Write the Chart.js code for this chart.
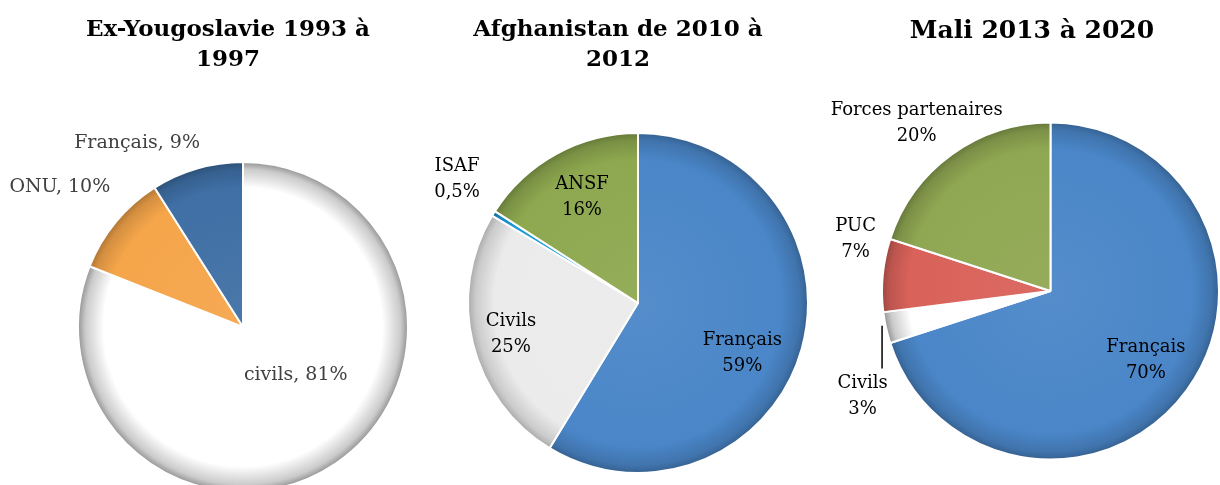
<!DOCTYPE html>
<html>
<head>
<meta charset="utf-8">
<script src="https://cdn.jsdelivr.net/npm/chart.js@4.4.1/dist/chart.umd.min.js"></script>
<style>
    body { margin: 0; background: #fff; }
    #wrap { position: relative; width: 1220px; height: 485px; overflow: hidden; background: #fff; }
    #wrap canvas { position: absolute; left: 0; top: 0; }
    .title {
        position: absolute; text-align: center; color: #000;
        font-family: "DejaVu Serif", serif; font-weight: bold; line-height: 30px;
    }
</style>
</head>
<body>
<div id="wrap">
    <canvas id="chartYougo" width="1220" height="500"></canvas>
    <canvas id="chartAfghan" width="1220" height="500"></canvas>
    <canvas id="chartMali" width="1220" height="500"></canvas>
    <div class="title" style="left:28px;top:13px;width:400px;font-size:23px;">Ex-Yougoslavie 1993 à<br>1997</div>
    <div class="title" style="left:418px;top:13px;width:400px;font-size:23px;">Afghanistan de 2010 à<br>2012</div>
    <div class="title" style="left:832px;top:15px;width:400px;font-size:25px;">Mali 2013 à 2020</div>
</div>
<script>
// Ex-Yougoslavie 1993 - 1997
const yougoCategories = ['civils', 'ONU', 'Français'];
const yougoValues = [81, 10, 9];
const yougoColors = ['#ffffff', '#f5a54a', '#3f6fa5'];

// Afghanistan 2010 - 2012
const afghanCategories = ['Français', 'Civils', 'ISAF', 'ANSF'];
const afghanValues = [59, 25, 0.5, 16];
const afghanColors = ['#4a86c8', '#ebebeb', '#1d9bd7', '#8da84f'];

// Mali 2013 - 2020
const maliCategories = ['Français', 'Civils', 'PUC', 'Forces partenaires'];
const maliValues = [70, 3, 7, 20];
const maliColors = ['#4a86c8', '#ffffff', '#d9625a', '#8fa752'];

// simple hex colour mixing for the bevel look
function mix(hex, target, t) {
    const a = parseInt(hex.slice(1), 16);
    const b = parseInt(target.slice(1), 16);
    const r = Math.round(((a >> 16) & 255) * (1 - t) + ((b >> 16) & 255) * t);
    const g = Math.round(((a >> 8) & 255) * (1 - t) + ((b >> 8) & 255) * t);
    const bl = Math.round((a & 255) * (1 - t) + (b & 255) * t);
    return 'rgb(' + r + ',' + g + ',' + bl + ')';
}

// radial gradient: flat colour in the middle, darker towards the rim
function bevel(context, base) {
    const area = context.chart.chartArea;
    if (!area) {
        return base;
    }
    const cx = (area.left + area.right) / 2;
    const cy = (area.top + area.bottom) / 2;
    const r = Math.min(area.right - area.left, area.bottom - area.top) / 2;
    const g = context.chart.ctx.createRadialGradient(cx, cy, 0, cx, cy, r);
    const edge = base === '#ffffff' ? 0.45 : 0.3;
    g.addColorStop(0, mix(base, '#ffffff', 0.06));
    g.addColorStop(0.84, base);
    g.addColorStop(0.95, mix(base, '#000000', edge * 0.45));
    g.addColorStop(1, mix(base, '#000000', edge));
    return g;
}

// draws the slice labels, placed along the slice middle angle
const sliceLabels = {
    id: 'sliceLabels',
    afterDatasetsDraw(chart) {
        const opts = chart.options.plugins.sliceLabels;
        const ctx = chart.ctx;
        const meta = chart.getDatasetMeta(0);
        ctx.save();
        ctx.font = opts.size + 'px "DejaVu Serif", serif';
        ctx.fillStyle = opts.color;
        ctx.textAlign = 'center';
        ctx.textBaseline = 'middle';
        meta.data.forEach(function(arc, i) {
            const p = arc.getProps(['x', 'y', 'startAngle', 'endAngle', 'outerRadius'], true);
            const mid = (p.startAngle + p.endAngle) / 2;
            const place = opts.place[i];
            const x = p.x + Math.cos(mid) * p.outerRadius * place.k + place.dx;
            const y = p.y + Math.sin(mid) * p.outerRadius * place.k + place.dy;
            const lines = opts.text[i].split('\n');
            const lh = 26;
            lines.forEach(function(line, j) {
                ctx.fillText(line, x, y + (j - (lines.length - 1) / 2) * lh);
            });
            if (place.leader) {
                const ex = p.x + Math.cos(mid) * p.outerRadius;
                const ey = p.y + Math.sin(mid) * p.outerRadius;
                ctx.strokeStyle = '#000';
                ctx.lineWidth = 1.5;
                ctx.beginPath();
                ctx.moveTo(ex - 4, ey - 2);
                ctx.lineTo(ex - 4, y - lh * lines.length / 2 - 2);
                ctx.stroke();
            }
        });
        ctx.restore();
    }
};

function frPercent(v) {
    return String(v).replace('.', ',') + '%';
}

function makePie(id, categories, values, colors, center, radius, labelOpts) {
    const canvas = document.getElementById(id);
    const W = canvas.width, H = canvas.height;
    return new Chart(canvas.getContext('2d'), {
        type: 'pie',
        data: {
            labels: categories,
            datasets: [{
                data: values,
                backgroundColor: function(context) {
                    return bevel(context, colors[context.dataIndex]);
                },
                borderColor: '#ffffff',
                borderWidth: 2
            }]
        },
        options: {
            responsive: false,
            animation: false,
            events: [],
            layout: {
                padding: {
                    left: center[0] - radius,
                    right: W - center[0] - radius,
                    top: center[1] - radius,
                    bottom: H - center[1] - radius
                }
            },
            plugins: {
                legend: { display: false },
                tooltip: { enabled: false },
                sliceLabels: labelOpts
            }
        },
        plugins: [sliceLabels]
    });
}

makePie('chartYougo', yougoCategories, yougoValues, yougoColors, [243, 327], 166, {
    size: 19,
    color: '#404040',
    text: yougoCategories.map((c, i) => c + ', ' + frPercent(yougoValues[i])),
    place: [
        { k: 0.45, dx: 11, dy: -13 },
        { k: 1.15, dx: -37, dy: -19 },
        { k: 1.15, dx: -53, dy: -2 }
    ]
});

makePie('chartAfghan', afghanCategories, afghanValues, afghanColors, [638, 303], 171, {
    size: 18,
    color: '#000000',
    text: afghanCategories.map((c, i) => c + '\n' + frPercent(afghanValues[i])),
    place: [
        { k: 0.68, dx: -7, dy: 19 },
        { k: 0.77, dx: 0, dy: 0 },
        { k: 1.28, dx: 4, dy: -9 },
        { k: 0.7, dx: 1, dy: -1 }
    ]
});

makePie('chartMali', maliCategories, maliValues, maliColors, [1052, 291], 171, {
    size: 18,
    color: '#000000',
    text: maliCategories.map((c, i) => c + '\n' + frPercent(maliValues[i])),
    place: [
        { k: 0.7, dx: 0, dy: 0 },
        { k: 1.1, dx: -7, dy: 65, leader: true },
        { k: 1.15, dx: -2, dy: -33 },
        { k: 1.2, dx: -15, dy: -4 }
    ]
});
</script>
</body>
</html>
